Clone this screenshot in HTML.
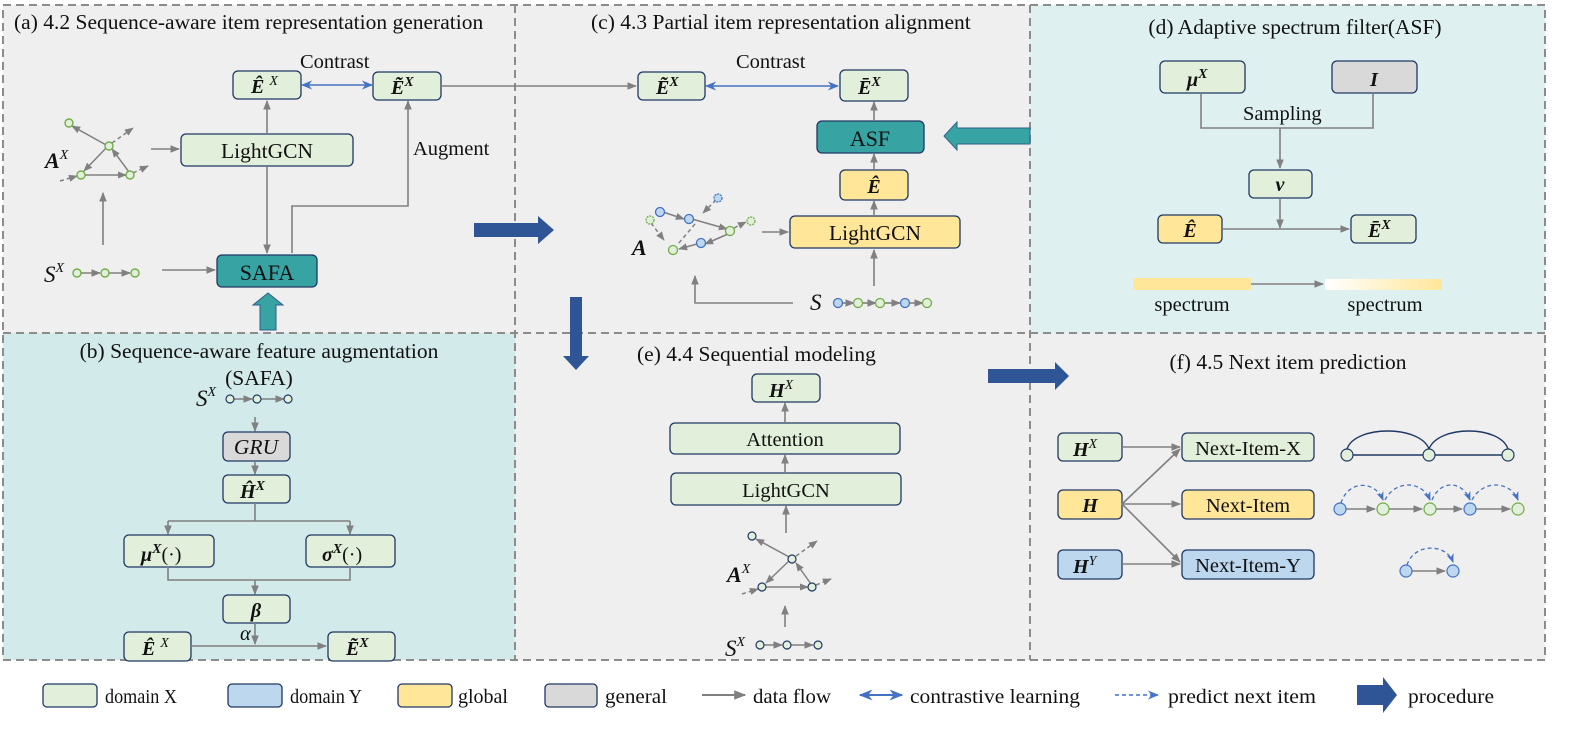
<!DOCTYPE html>
<html><head><meta charset="utf-8"><style>
body{margin:0;background:#fff}
svg{display:block}
text{font-family:"Liberation Serif",serif;fill:#111}
.t{font-size:20.5px}
.h{font-size:21.5px}
.m{font-weight:bold;font-style:italic;font-size:20px}
.bx{stroke:#203864;stroke-width:1.3}
.ln{stroke:#808080;stroke-width:1.6;fill:none}
</style></head><body>
<svg width="1594" height="731" viewBox="0 0 1594 731" xmlns="http://www.w3.org/2000/svg">
<defs>
<marker id="ga" viewBox="0 0 10 10" refX="9" refY="5" markerWidth="6" markerHeight="6" orient="auto-start-reverse"><path d="M0,1 L10,5 L0,9 z" fill="#808080"/></marker>
<marker id="ba" viewBox="0 0 10 10" refX="9" refY="5" markerWidth="7" markerHeight="7" orient="auto-start-reverse"><path d="M0,1 L10,5 L0,9 L3,5 z" fill="#4472c4"/></marker>
<linearGradient id="sp" x1="0" x2="1"><stop offset="0" stop-color="#fff"/><stop offset="1" stop-color="#ffe699"/></linearGradient>
</defs>
<rect x="3" y="5" width="512" height="328" fill="#efefef"/>
<rect x="515" y="5" width="515" height="328" fill="#efefef"/>
<rect x="1030" y="5" width="515" height="328" fill="#dff0f0"/>
<rect x="3" y="333" width="512" height="327" fill="#d3eaea"/>
<rect x="515" y="333" width="515" height="327" fill="#efefef"/>
<rect x="1030" y="333" width="515" height="327" fill="#efefef"/>
<g stroke="#8c8c8c" stroke-width="2" stroke-dasharray="8,5" fill="none">
<rect x="3" y="5" width="1542" height="655"/>
<line x1="515" y1="5" x2="515" y2="660"/><line x1="1030" y1="5" x2="1030" y2="660"/>
<line x1="3" y1="333" x2="1545" y2="333"/>
</g>

<!-- (a) -->
<text x="14" y="29" class="h">(a) 4.2 Sequence-aware item representation generation</text>
<text x="300" y="68" class="t">Contrast</text>
<rect x="233" y="71" width="68" height="28" rx="5" fill="#e2efda" class="bx"/>
<text x="251" y="93" class="m">Ê <tspan font-size="14" dy="-8" font-weight="normal">X</tspan></text>
<rect x="373" y="72" width="68" height="28" rx="5" fill="#e2efda" class="bx"/>
<text x="391" y="94" class="m">Ẽ<tspan font-size="14" dy="-8">X</tspan></text>
<line x1="302" y1="85" x2="372" y2="85" stroke="#4472c4" stroke-width="1.6" marker-start="url(#ba)" marker-end="url(#ba)"/>
<line x1="441" y1="86" x2="636" y2="86" class="ln" marker-end="url(#ga)"/>
<rect x="181" y="134" width="172" height="32" rx="5" fill="#e2efda" class="bx"/>
<text x="267" y="158" class="h" text-anchor="middle">LightGCN</text>
<line x1="151" y1="149" x2="179" y2="149" class="ln" marker-end="url(#ga)"/>
<line x1="267" y1="134" x2="267" y2="101" class="ln" marker-end="url(#ga)"/>
<line x1="267" y1="166" x2="267" y2="253" class="ln" marker-end="url(#ga)"/>
<polyline points="292,253 292,206 408,206 408,101" class="ln" marker-end="url(#ga)"/>
<text x="413" y="155" class="t">Augment</text>
<g stroke="#808080" stroke-width="1.5" fill="none">
<line x1="108" y1="146" x2="72" y2="126" marker-end="url(#ga)"/>
<line x1="108" y1="146" x2="84" y2="171" marker-end="url(#ga)"/>
<line x1="84" y1="175" x2="126" y2="175" marker-end="url(#ga)"/>
<line x1="129" y1="172" x2="112" y2="149" marker-end="url(#ga)"/>
<line x1="112" y1="143" x2="133" y2="128" stroke-dasharray="4,3" marker-end="url(#ga)"/>
<line x1="133" y1="173" x2="148" y2="166" stroke-dasharray="4,3" marker-end="url(#ga)"/>
<line x1="60" y1="181" x2="77" y2="176" stroke-dasharray="4,3" marker-end="url(#ga)"/>
</g>
<g fill="#e2efda" stroke="#70ad47" stroke-width="1.4"><circle cx="69" cy="123" r="4"/><circle cx="109" cy="146" r="4"/><circle cx="81" cy="175" r="4"/><circle cx="130" cy="175" r="4"/></g>
<text x="45" y="168" class="m" style="font-size:22px">A<tspan font-size="14" dy="-9" font-style="italic" font-weight="normal">X</tspan></text>
<line x1="103" y1="245" x2="103" y2="193" class="ln" marker-end="url(#ga)"/>
<text x="44" y="282" class="t" font-style="italic" style="font-size:23px">S<tspan font-size="14" dy="-10">X</tspan></text>
<g class="ln"><line x1="81" y1="273" x2="100" y2="273" marker-end="url(#ga)"/><line x1="109" y1="273" x2="130" y2="273" marker-end="url(#ga)"/></g>
<g fill="#e2efda" stroke="#70ad47" stroke-width="1.4"><circle cx="77" cy="273" r="4"/><circle cx="105" cy="273" r="4"/><circle cx="135" cy="273" r="4"/></g>
<line x1="162" y1="270" x2="215" y2="270" class="ln" marker-end="url(#ga)"/>
<rect x="217" y="255" width="100" height="32" rx="5" fill="#37a3a3" class="bx"/>
<text x="267" y="280" class="t" text-anchor="middle" style="font-size:22px">SAFA</text>
<path d="M260,330 L260,305 L253,305 L268,293 L283,305 L276,305 L276,330 z" fill="#37a3a3" stroke="#2e5f8a" stroke-width="1"/>
<path d="M474,223 L538,223 L538,216 L554,230 L538,244 L538,237 L474,237 z" fill="#2f5597"/>

<!-- (c) -->
<text x="591" y="29" class="h">(c) 4.3 Partial item representation alignment</text>
<text x="736" y="68" class="t">Contrast</text>
<rect x="638" y="72" width="67" height="28" rx="5" fill="#e2efda" class="bx"/>
<text x="656" y="94" class="m">Ẽ<tspan font-size="14" dy="-8">X</tspan></text>
<rect x="840" y="70" width="68" height="31" rx="5" fill="#e2efda" class="bx"/>
<text x="858" y="94" class="m">Ē<tspan font-size="14" dy="-8">X</tspan></text>
<line x1="706" y1="86" x2="838" y2="86" stroke="#4472c4" stroke-width="1.6" marker-start="url(#ba)" marker-end="url(#ba)"/>
<rect x="817" y="121" width="107" height="32" rx="5" fill="#37a3a3" class="bx"/>
<text x="870" y="146" class="t" text-anchor="middle" style="font-size:22px">ASF</text>
<line x1="874" y1="121" x2="874" y2="102" class="ln" marker-end="url(#ga)"/>
<rect x="840" y="170" width="68" height="30" rx="5" fill="#ffe699" class="bx"/>
<text x="874" y="193" class="m" text-anchor="middle">Ê</text>
<line x1="874" y1="170" x2="874" y2="154" class="ln" marker-end="url(#ga)"/>
<rect x="790" y="216" width="170" height="32" rx="5" fill="#ffe699" class="bx"/>
<text x="875" y="240" class="h" text-anchor="middle">LightGCN</text>
<line x1="874" y1="216" x2="874" y2="201" class="ln" marker-end="url(#ga)"/>
<line x1="762" y1="232" x2="788" y2="232" class="ln" marker-end="url(#ga)"/>
<g stroke="#808080" stroke-width="1.5" fill="none">
<line x1="663" y1="212" x2="684" y2="219" marker-end="url(#ga)"/>
<line x1="692" y1="219" x2="727" y2="229" marker-end="url(#ga)"/>
<line x1="728" y1="234" x2="705" y2="244" marker-end="url(#ga)"/>
<line x1="697" y1="244" x2="679" y2="249" marker-end="url(#ga)"/>
<line x1="734" y1="228" x2="746" y2="222" stroke-dasharray="4,3" marker-end="url(#ga)"/>
<line x1="651" y1="223" x2="664" y2="240" stroke-dasharray="4,3" marker-end="url(#ga)"/>
<line x1="695" y1="224" x2="678" y2="244" stroke-dasharray="4,3"/>
<line x1="716" y1="200" x2="703" y2="213" stroke-dasharray="4,3" marker-end="url(#ga)"/>
</g>
<g stroke-width="1.3">
<circle cx="660" cy="212" r="4.5" fill="#bdd7ee" stroke="#4472c4"/>
<circle cx="689" cy="219" r="4.5" fill="#bdd7ee" stroke="#4472c4"/>
<circle cx="718" cy="198" r="4" fill="#bdd7ee" stroke="#4472c4" stroke-dasharray="2,1"/>
<circle cx="650" cy="220" r="4" fill="#e2efda" stroke="#70ad47" stroke-dasharray="2,1"/>
<circle cx="730" cy="231" r="4.5" fill="#e2efda" stroke="#70ad47"/>
<circle cx="751" cy="221" r="4" fill="#e2efda" stroke="#70ad47" stroke-dasharray="2,1"/>
<circle cx="701" cy="243" r="4.5" fill="#bdd7ee" stroke="#4472c4"/>
<circle cx="673" cy="250" r="4.5" fill="#e2efda" stroke="#70ad47"/>
</g>
<text x="632" y="255" class="m" style="font-size:22px">A</text>
<polyline points="793,303 695,303 695,276" class="ln" marker-end="url(#ga)"/>
<line x1="874" y1="286" x2="874" y2="250" class="ln" marker-end="url(#ga)"/>
<text x="810" y="310" class="t" font-style="italic" style="font-size:23px">S</text>
<g class="ln"><line x1="842" y1="303" x2="854" y2="303" marker-end="url(#ga)"/><line x1="862" y1="303" x2="876" y2="303" marker-end="url(#ga)"/><line x1="884" y1="303" x2="900" y2="303" marker-end="url(#ga)"/><line x1="909" y1="303" x2="923" y2="303" marker-end="url(#ga)"/></g>
<g stroke-width="1.3"><circle cx="838" cy="303" r="4.5" fill="#bdd7ee" stroke="#4472c4"/><circle cx="858" cy="303" r="4.5" fill="#e2efda" stroke="#70ad47"/><circle cx="880" cy="303" r="4.5" fill="#e2efda" stroke="#70ad47"/><circle cx="905" cy="303" r="4.5" fill="#bdd7ee" stroke="#4472c4"/><circle cx="927" cy="303" r="4.5" fill="#e2efda" stroke="#70ad47"/></g>
<path d="M1030,128 L957,128 L957,122 L944,136 L957,150 L957,144 L1030,144 z" fill="#37a3a3" stroke="#2e5f8a" stroke-width="1"/>
<path d="M570,297 L582,297 L582,356 L589,356 L576,370 L563,356 L570,356 z" fill="#2f5597"/>

<!-- (d) -->
<text x="1295" y="34" class="h" text-anchor="middle">(d) Adaptive spectrum filter(ASF)</text>
<rect x="1160" y="61" width="85" height="32" rx="5" fill="#e2efda" class="bx"/>
<text x="1187" y="86" class="m">μ<tspan font-size="14" dy="-8">X</tspan></text>
<rect x="1332" y="61" width="85" height="32" rx="5" fill="#d9d9d9" class="bx"/>
<text x="1374" y="86" class="m" text-anchor="middle">I</text>
<text x="1243" y="120" class="t">Sampling</text>
<polyline points="1201,93 1201,128 1373,128 1373,93" class="ln"/>
<line x1="1280" y1="128" x2="1280" y2="168" class="ln" marker-end="url(#ga)"/>
<rect x="1249" y="170" width="63" height="28" rx="5" fill="#e2efda" class="bx"/>
<text x="1280" y="191" class="m" text-anchor="middle">v</text>
<rect x="1158" y="215" width="64" height="28" rx="5" fill="#ffe699" class="bx"/>
<text x="1190" y="237" class="m" text-anchor="middle">Ê</text>
<rect x="1351" y="215" width="65" height="28" rx="5" fill="#e2efda" class="bx"/>
<text x="1368" y="237" class="m">Ē<tspan font-size="14" dy="-8">X</tspan></text>
<line x1="1222" y1="229" x2="1349" y2="229" class="ln" marker-end="url(#ga)"/>
<line x1="1280" y1="198" x2="1280" y2="228" class="ln" marker-end="url(#ga)"/>
<rect x="1133" y="278" width="118" height="12" fill="#ffe699"/>
<rect x="1325" y="279" width="117" height="11" fill="url(#sp)"/>
<line x1="1251" y1="284" x2="1323" y2="284" class="ln" marker-end="url(#ga)"/>
<text x="1192" y="311" class="t" text-anchor="middle">spectrum</text>
<text x="1385" y="311" class="t" text-anchor="middle">spectrum</text>

<!-- (b) -->
<text x="259" y="358" class="h" text-anchor="middle">(b) Sequence-aware feature augmentation</text>
<text x="259" y="385" class="h" text-anchor="middle">(SAFA)</text>
<text x="196" y="406" class="t" font-style="italic" style="font-size:23px">S<tspan font-size="14" dy="-10">X</tspan></text>
<g class="ln"><line x1="234" y1="399" x2="252" y2="399" marker-end="url(#ga)"/><line x1="261" y1="399" x2="284" y2="399" marker-end="url(#ga)"/></g>
<g fill="#e2efda" stroke="#203864" stroke-width="1.2"><circle cx="230" cy="399" r="4"/><circle cx="257" cy="399" r="4"/><circle cx="288" cy="399" r="4"/></g>
<line x1="255" y1="417" x2="255" y2="431" class="ln" marker-end="url(#ga)"/>
<rect x="223" y="432" width="67" height="29" rx="5" fill="#d9d9d9" class="bx"/>
<text x="256" y="454" class="h" text-anchor="middle" font-style="italic">GRU</text>
<line x1="255" y1="461" x2="255" y2="474" class="ln" marker-end="url(#ga)"/>
<rect x="223" y="475" width="67" height="28" rx="5" fill="#e2efda" class="bx"/>
<text x="240" y="498" class="m">Ĥ<tspan font-size="14" dy="-8">X</tspan></text>
<polyline points="255,503 255,521" class="ln"/>
<polyline points="168,521 350,521" class="ln"/>
<line x1="168" y1="521" x2="168" y2="534" class="ln" marker-end="url(#ga)"/>
<line x1="350" y1="521" x2="350" y2="534" class="ln" marker-end="url(#ga)"/>
<rect x="124" y="535" width="90" height="32" rx="5" fill="#e2efda" class="bx"/>
<text x="141" y="561" class="m">μ<tspan font-size="14" dy="-8">X</tspan><tspan dy="8" font-weight="normal" font-style="normal">(·)</tspan></text>
<rect x="306" y="535" width="89" height="32" rx="5" fill="#e2efda" class="bx"/>
<text x="322" y="561" class="m">σ<tspan font-size="14" dy="-8">X</tspan><tspan dy="8" font-weight="normal" font-style="normal">(·)</tspan></text>
<polyline points="168,567 168,580 350,580 350,567" class="ln"/>
<line x1="255" y1="580" x2="255" y2="594" class="ln" marker-end="url(#ga)"/>
<rect x="223" y="595" width="67" height="28" rx="5" fill="#e2efda" class="bx"/>
<text x="256" y="617" class="m" text-anchor="middle">β</text>
<text x="240" y="640" class="t" font-style="italic">α</text>
<line x1="255" y1="623" x2="255" y2="644" class="ln" marker-end="url(#ga)"/>
<rect x="124" y="632" width="67" height="29" rx="5" fill="#e2efda" class="bx"/>
<text x="142" y="655" class="m">Ê <tspan font-size="14" dy="-8" font-weight="normal">X</tspan></text>
<rect x="328" y="632" width="67" height="29" rx="5" fill="#e2efda" class="bx"/>
<text x="346" y="655" class="m">Ẽ<tspan font-size="14" dy="-8">X</tspan></text>
<line x1="191" y1="646" x2="326" y2="646" class="ln" marker-end="url(#ga)"/>

<!-- (e) -->
<text x="637" y="361" class="h">(e) 4.4 Sequential modeling</text>
<rect x="752" y="374" width="68" height="28" rx="5" fill="#e2efda" class="bx"/>
<text x="769" y="397" class="m">H<tspan font-size="14" dy="-8" font-weight="normal">X</tspan></text>
<rect x="670" y="423" width="230" height="31" rx="5" fill="#e2efda" class="bx"/>
<text x="785" y="446" class="t" text-anchor="middle">Attention</text>
<rect x="671" y="473" width="230" height="32" rx="5" fill="#e2efda" class="bx"/>
<text x="786" y="497" class="t" text-anchor="middle">LightGCN</text>
<line x1="785" y1="423" x2="785" y2="403" class="ln" marker-end="url(#ga)"/>
<line x1="785" y1="473" x2="785" y2="455" class="ln" marker-end="url(#ga)"/>
<line x1="786" y1="533" x2="786" y2="506" class="ln" marker-end="url(#ga)"/>
<g stroke="#808080" stroke-width="1.5" fill="none">
<line x1="791" y1="558" x2="756" y2="539" marker-end="url(#ga)"/>
<line x1="791" y1="559" x2="766" y2="583" marker-end="url(#ga)"/>
<line x1="766" y1="587" x2="808" y2="587" marker-end="url(#ga)"/>
<line x1="811" y1="584" x2="796" y2="563" marker-end="url(#ga)"/>
<line x1="796" y1="556" x2="817" y2="541" stroke-dasharray="4,3" marker-end="url(#ga)"/>
<line x1="816" y1="585" x2="831" y2="579" stroke-dasharray="4,3" marker-end="url(#ga)"/>
<line x1="742" y1="594" x2="758" y2="589" stroke-dasharray="4,3" marker-end="url(#ga)"/>
</g>
<g fill="#e2efda" stroke="#203864" stroke-width="1.2"><circle cx="752" cy="536" r="4"/><circle cx="792" cy="559" r="4"/><circle cx="762" cy="587" r="4"/><circle cx="812" cy="587" r="4"/></g>
<text x="727" y="582" class="m" style="font-size:22px">A<tspan font-size="14" dy="-9" font-style="italic" font-weight="normal">X</tspan></text>
<line x1="785" y1="627" x2="785" y2="606" class="ln" marker-end="url(#ga)"/>
<text x="725" y="656" class="t" font-style="italic" style="font-size:23px">S<tspan font-size="14" dy="-10">X</tspan></text>
<g class="ln"><line x1="764" y1="645" x2="782" y2="645" marker-end="url(#ga)"/><line x1="791" y1="645" x2="813" y2="645" marker-end="url(#ga)"/></g>
<g fill="#e2efda" stroke="#203864" stroke-width="1.2"><circle cx="760" cy="645" r="4"/><circle cx="787" cy="645" r="4"/><circle cx="818" cy="645" r="4"/></g>
<path d="M988,369 L1055,369 L1055,362 L1069,376 L1055,390 L1055,383 L988,383 z" fill="#2f5597"/>

<!-- (f) -->
<text x="1288" y="369" class="h" text-anchor="middle">(f) 4.5 Next item prediction</text>
<rect x="1058" y="433" width="64" height="28" rx="5" fill="#e2efda" class="bx"/>
<text x="1073" y="456" class="m">H<tspan font-size="14" dy="-8" font-weight="normal">X</tspan></text>
<rect x="1058" y="490" width="64" height="29" rx="5" fill="#ffe699" class="bx"/>
<text x="1090" y="512" class="m" text-anchor="middle">H</text>
<rect x="1058" y="550" width="64" height="29" rx="5" fill="#bdd7ee" class="bx"/>
<text x="1073" y="573" class="m">H<tspan font-size="14" dy="-8" font-weight="normal">Y</tspan></text>
<rect x="1182" y="433" width="132" height="28" rx="5" fill="#e2efda" class="bx"/>
<text x="1248" y="455" class="t" text-anchor="middle">Next-Item-X</text>
<rect x="1182" y="490" width="132" height="29" rx="5" fill="#ffe699" class="bx"/>
<text x="1248" y="512" class="t" text-anchor="middle">Next-Item</text>
<rect x="1182" y="550" width="132" height="29" rx="5" fill="#bdd7ee" class="bx"/>
<text x="1248" y="572" class="t" text-anchor="middle">Next-Item-Y</text>
<g class="ln">
<line x1="1122" y1="447" x2="1180" y2="447" marker-end="url(#ga)"/>
<line x1="1122" y1="504" x2="1180" y2="449" marker-end="url(#ga)"/>
<line x1="1122" y1="504" x2="1180" y2="504" marker-end="url(#ga)"/>
<line x1="1122" y1="504" x2="1180" y2="562" marker-end="url(#ga)"/>
<line x1="1122" y1="564" x2="1180" y2="564" marker-end="url(#ga)"/>
</g>
<g stroke="#203864" stroke-width="1.4" fill="none">
<line x1="1347" y1="455" x2="1508" y2="455"/>
<path d="M1347,449 C1355,425 1420,425 1429,449"/>
<path d="M1429,449 C1438,425 1500,425 1508,449"/>
</g>
<g fill="#e2efda" stroke="#203864" stroke-width="1.2"><circle cx="1347" cy="455" r="6"/><circle cx="1429" cy="455" r="6"/><circle cx="1508" cy="455" r="6"/></g>
<g class="ln"><line x1="1346" y1="509" x2="1375" y2="509" marker-end="url(#ga)"/><line x1="1389" y1="509" x2="1422" y2="509" marker-end="url(#ga)"/><line x1="1436" y1="509" x2="1462" y2="509" marker-end="url(#ga)"/><line x1="1476" y1="509" x2="1510" y2="509" marker-end="url(#ga)"/><line x1="1412" y1="571" x2="1445" y2="571" marker-end="url(#ga)"/></g>
<g stroke="#4472c4" stroke-width="1.3" fill="none" stroke-dasharray="4,3">
<path d="M1341,503 C1348,480 1375,480 1383,500" marker-end="url(#ba)"/>
<path d="M1385,500 C1395,480 1422,480 1430,500" marker-end="url(#ba)"/>
<path d="M1432,500 C1440,480 1462,480 1470,500" marker-end="url(#ba)"/>
<path d="M1472,500 C1482,480 1510,480 1518,500" marker-end="url(#ba)"/>
<path d="M1407,565 C1414,543 1446,543 1453,562" marker-end="url(#ba)"/>
</g>
<g stroke-width="1.2">
<circle cx="1340" cy="509" r="6" fill="#bdd7ee" stroke="#4472c4"/><circle cx="1383" cy="509" r="6" fill="#e2efda" stroke="#70ad47"/><circle cx="1430" cy="509" r="6" fill="#e2efda" stroke="#70ad47"/><circle cx="1470" cy="509" r="6" fill="#bdd7ee" stroke="#4472c4"/><circle cx="1518" cy="509" r="6" fill="#e2efda" stroke="#70ad47"/>
<circle cx="1406" cy="571" r="6" fill="#bdd7ee" stroke="#4472c4"/><circle cx="1453" cy="571" r="6" fill="#bdd7ee" stroke="#4472c4"/>
</g>

<!-- legend -->
<g class="bx">
<rect x="43" y="684" width="54" height="23" rx="4" fill="#e2efda"/>
<rect x="228" y="684" width="54" height="23" rx="4" fill="#bdd7ee"/>
<rect x="398" y="684" width="54" height="23" rx="4" fill="#ffe699"/>
<rect x="545" y="684" width="52" height="23" rx="4" fill="#d9d9d9"/>
</g>
<g style="font-size:20px">
<text x="105" y="703" textLength="72" lengthAdjust="spacingAndGlyphs">domain X</text>
<text x="290" y="703" textLength="72" lengthAdjust="spacingAndGlyphs">domain Y</text>
<text x="458" y="703" textLength="50" lengthAdjust="spacingAndGlyphs">global</text>
<text x="605" y="703" textLength="62" lengthAdjust="spacingAndGlyphs">general</text>
<text x="753" y="703" textLength="78" lengthAdjust="spacingAndGlyphs">data flow</text>
<text x="910" y="703" textLength="170" lengthAdjust="spacingAndGlyphs">contrastive learning</text>
<text x="1168" y="703" textLength="148" lengthAdjust="spacingAndGlyphs">predict next item</text>
<text x="1408" y="703" textLength="86" lengthAdjust="spacingAndGlyphs">procedure</text>
</g>
<line x1="702" y1="695" x2="745" y2="695" stroke="#808080" stroke-width="2" marker-end="url(#ga)"/>
<line x1="860" y1="695" x2="902" y2="695" stroke="#4472c4" stroke-width="2" marker-start="url(#ba)" marker-end="url(#ba)"/>
<line x1="1115" y1="695" x2="1158" y2="695" stroke="#4472c4" stroke-width="1.6" stroke-dasharray="4,3" marker-end="url(#ba)"/>
<path d="M1357,685 L1383,685 L1383,677 L1397,695 L1383,713 L1383,705 L1357,705 z" fill="#2f5597"/>
</svg>
</body></html>
